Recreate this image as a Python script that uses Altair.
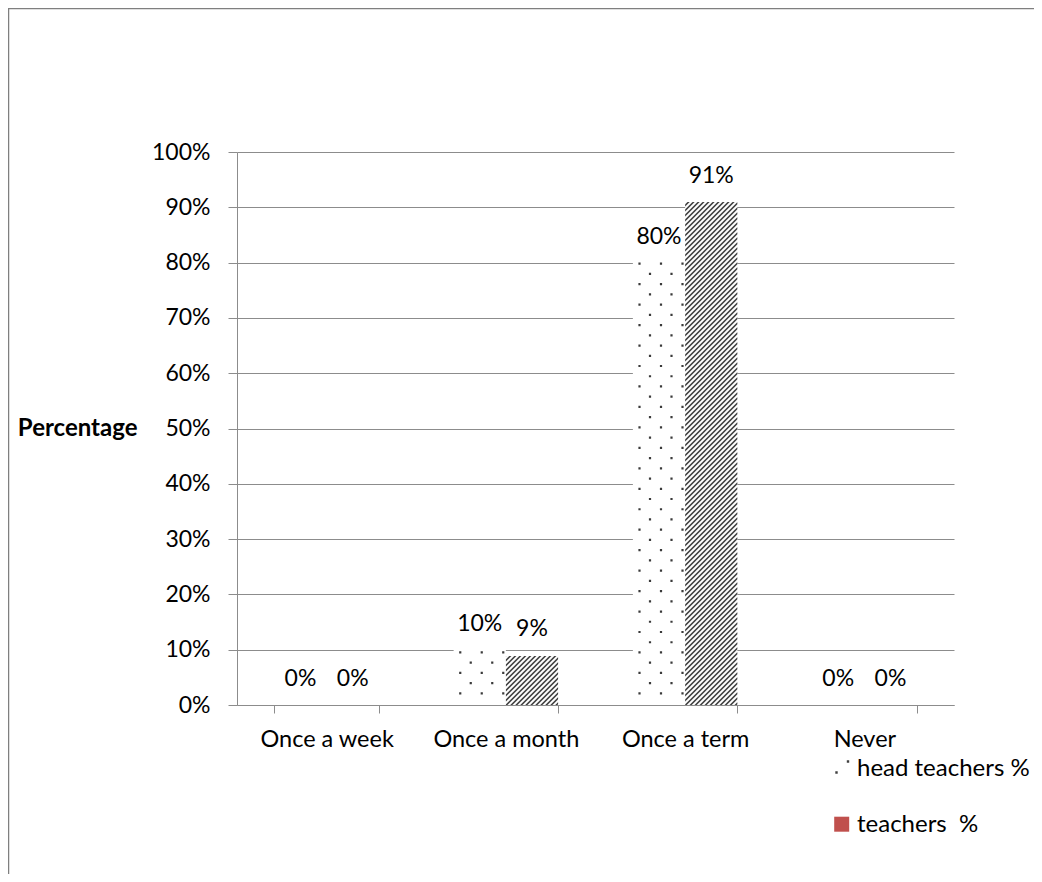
import altair as alt
import pandas as pd

categories = ["Once a week", "Once a month", "Once a term", "Never"]
series = ["head teachers %", "teachers\u00a0 %"]
head_teachers = [0.00, 0.10, 0.80, 0.00]
teachers = [0.00, 0.09, 0.91, 0.00]
y_ticks = [0, 0.1, 0.2, 0.3, 0.4, 0.5, 0.6, 0.7, 0.8, 0.9, 1.0]

rows = []
for c, h, t in zip(categories, head_teachers, teachers):
    rows.append({"cat": c, "series": series[0], "value": h})
    rows.append({"cat": c, "series": series[1], "value": t})
df = pd.DataFrame(rows)
legend_df = pd.DataFrame({"entry": series, "row": [0, 1]})

FONT = "Lato"
GRAY = "#8c8c8c"
PLOT_H = 553

# ---- texture tiles (pixel-unit symbol paths, drawn with size=4 -> scale 1) ----
def clip_x(poly, xmin, xmax):
    def clip(poly, inside, inter):
        out = []
        for i in range(len(poly)):
            cur, prev = poly[i], poly[i - 1]
            if inside(cur):
                if not inside(prev):
                    out.append(inter(prev, cur))
                out.append(cur)
            elif inside(prev):
                out.append(inter(prev, cur))
        return out

    def ix(xv):
        def f(a, b):
            t = (xv - a[0]) / (b[0] - a[0])
            return (xv, a[1] + t * (b[1] - a[1]))
        return f

    poly = clip(poly, lambda p: p[0] >= xmin, ix(xmin))
    if poly:
        poly = clip(poly, lambda p: p[0] <= xmax, ix(xmax))
    return poly

HALF_W = 26.1
PERIOD = 5.0
STRIPE = 2.1
ROW = 1.0          # row height in px
HALF_SPAN = 0.62   # slight overlap between rows
N_PHASE = 5

def hatch_tile(phase):
    parts = []
    c = -HALF_W - PERIOD - STRIPE - 3 + phase
    while c < HALF_W + PERIOD + 3:
        ymin, ymax = -HALF_SPAN, HALF_SPAN
        poly = [(c - ymin, ymin), (c + STRIPE - ymin, ymin),
                (c + STRIPE - ymax, ymax), (c - ymax, ymax)]
        poly = clip_x(poly, -HALF_W, HALF_W)
        if len(poly) >= 3:
            parts.append("M" + "L".join(f"{x:.2f},{y:.2f}" for x, y in poly) + "Z")
        c += PERIOD
    return " ".join(parts)

def dots(pts, r=1.1):
    return " ".join(f"M{x - r:.2f},{y - r:.2f}h{2 * r:.2f}v{2 * r:.2f}h{-2 * r:.2f}Z"
                    for x, y in pts)

dots_a = dots([(-19.5, 0), (2, 0), (23.5, 0)])
dots_b = dots([(-9, 0), (12.5, 0)])

x_enc = alt.X("cat:N", sort=categories,
              scale=alt.Scale(domain=categories, paddingInner=0.417, paddingOuter=0.2085),
              axis=alt.Axis(title=None, labelFont=FONT, labelFontSize=23.5, labelColor="black",
                            labelAngle=0, tickBand="extent", tickSize=8, tickColor=GRAY,
                            domainColor=GRAY, labelPadding=14, grid=False))
xo_enc = alt.XOffset("series:N", sort=series,
                     scale=alt.Scale(domain=series, paddingInner=0, paddingOuter=0))
y_enc = alt.Y("value:Q", scale=alt.Scale(domain=[0, 1]),
              axis=alt.Axis(values=y_ticks, format=".0%", labelFont=FONT, labelFontSize=23,
                            labelColor="black", tickSize=9, tickColor=GRAY, labelPadding=18,
                            gridColor=GRAY, domainColor=GRAY, title="Percentage",
                            titleAngle=0, titleFont=FONT, titleFontSize=24,
                            titleFontWeight="bold", titleColor="black", titleAlign="right",
                            titleBaseline="middle", titleX=-100, titleY=276))

base = alt.Chart(df)

bars = base.mark_bar().encode(
    x=x_enc, xOffset=xo_enc, y=y_enc,
    fill=alt.Fill("series:N", scale=alt.Scale(domain=series, range=["#ffffff", "#ffffff"]),
                  legend=None),
)

# dotted texture rows for head-teachers bars
DSTEP = 0.0185
dots_base = base.transform_filter(
    alt.datum.series == series[0]
).transform_calculate(
    seq=f"sequence(0.021, datum.value, {DSTEP})"
).transform_flatten(["seq"]).transform_calculate(
    k=f"round((datum.seq - 0.021) / {DSTEP}) % 2"
)
dot_layers = [
    dots_base.transform_filter(alt.datum.k == parity)
    .mark_point(shape=path, size=4, filled=True, color="#3a3a3a", opacity=1, strokeWidth=0)
    .encode(x=x_enc, xOffset=xo_enc, y=alt.Y("seq:Q"))
    for parity, path in ((0, dots_a), (1, dots_b))
]

# hatched texture rows for teachers bars
HSTEP = ROW / PLOT_H
hatch_base = base.transform_filter(
    alt.datum.series == series[1]
).transform_calculate(
    seq=f"sequence({HSTEP / 2}, datum.value - {HSTEP / 2} + 1e-9, {HSTEP})"
).transform_flatten(["seq"]).transform_calculate(
    k=f"round((datum.seq - {HSTEP / 2}) / {HSTEP}) % {N_PHASE}"
)
hatch_layers = [
    hatch_base.transform_filter(alt.datum.k == j)
    .mark_point(shape=hatch_tile(j), size=4, filled=True, color="#363636",
                opacity=1, strokeWidth=0)
    .encode(x=x_enc, xOffset=xo_enc, y=alt.Y("seq:Q"))
    for j in range(N_PHASE)
]

labels = base.mark_text(dy=-19, baseline="alphabetic", fontSize=23, font=FONT,
                        color="black").encode(
    x=x_enc, xOffset=xo_enc, y=y_enc,
    text=alt.Text("value:Q", format=".0%"),
)

# legend drawn by hand (symbols differ from the bar fills, as in the original)
leg = alt.Chart(legend_df)
legend_dots = dots([(-5, 5.5), (6.5, -5.5)], r=1.2)
leg_sym_head = leg.transform_filter(alt.datum.row == 0).mark_point(
    shape=legend_dots, size=4, filled=True, color="#404040", opacity=1, strokeWidth=0
).encode(x=alt.value(604.5), y=alt.value(615))
leg_sym_teach = leg.transform_filter(alt.datum.row == 1).mark_square(
    size=225, color="#c0504d", opacity=1
).encode(x=alt.value(604.7), y=alt.value(672.2))
leg_txt_head = leg.transform_filter(alt.datum.row == 0).mark_text(
    align="left", baseline="alphabetic", fontSize=24, font=FONT, color="black"
).encode(x=alt.value(620), y=alt.value(624), text="entry:N")
leg_txt_teach = leg.transform_filter(alt.datum.row == 1).mark_text(
    align="left", baseline="alphabetic", fontSize=24, font=FONT, color="black"
).encode(x=alt.value(620), y=alt.value(680), text="entry:N")

frame = alt.Chart(alt.Data(values=[{}]))
left_border = frame.mark_rule(color="#7f7f7f", strokeWidth=1.5).encode(
    x=alt.value(-228.5), y=alt.value(-144), y2=alt.value(722))
top_border = frame.mark_rule(color="#7f7f7f", strokeWidth=1.5).encode(
    x=alt.value(-229), x2=alt.value(797), y=alt.value(-143.5))

chart = alt.layer(bars, *dot_layers, *hatch_layers, labels,
                  leg_sym_head, leg_sym_teach, leg_txt_head, leg_txt_teach,
                  left_border, top_border).properties(
    width=717, height=PLOT_H,
    autosize=alt.AutoSizeParams(type="none"),
    padding={"left": 229, "top": 144, "right": 80, "bottom": 169},
).configure_view(stroke=None)

chart.save("out.html", embed_options={"renderer": "svg", "actions": False})
